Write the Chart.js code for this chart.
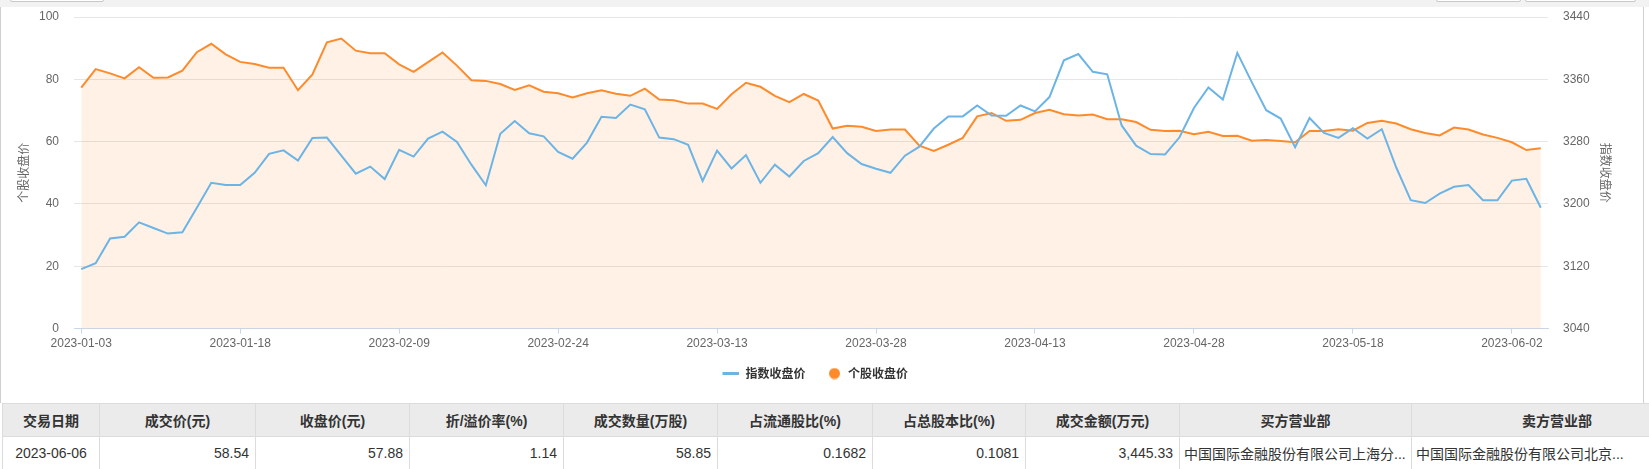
<!DOCTYPE html>
<html>
<head>
<meta charset="utf-8">
<script src="https://cdn.jsdelivr.net/npm/chart.js@4.4.0/dist/chart.umd.min.js"></script>
<style>
body { margin: 0; width: 1649px; height: 469px; overflow: hidden; background: #fff; position: relative;
  font-family: Arial, "Liberation Sans", "Noto Sans CJK SC", sans-serif; }
#topbar { position: absolute; left: 0; top: 0; width: 1649px; height: 7px; background: #f2f2f2; }
.btn { position: absolute; top: -6px; height: 6px; border: 1px solid #c8c8c8; background: #fff; border-radius: 2px; }
#panel { position: absolute; left: 0; top: 7px; width: 1644px; height: 396px; border-left: 1px solid #d0d0d0; border-right: 1px solid #d0d0d0; box-sizing: border-box; }
#wrap { position: absolute; left: 0; top: 0; width: 1649px; height: 400px; }
table { position: absolute; left: 2px; top: 403px; border-collapse: collapse; table-layout: fixed; width: 1700px; font-size: 14px; color: #333; }
th, td { border: 1px solid #dcdcdc; height: 32px; padding: 0 6px; white-space: nowrap; overflow: hidden; }
th { background: #ebebeb; font-weight: bold; text-align: center; }
td { text-align: right; }
td.c { text-align: center; }
td.l { text-align: left; padding-left: 4px; }
</style>
</head>
<body>
<div id="topbar"></div>
<div class="btn" style="left:10px;width:92px"></div>
<div class="btn" style="left:1436px;width:83px"></div>
<div class="btn" style="left:1525px;width:109px"></div>
<div id="panel"></div>
<div id="wrap"><canvas id="myChart"></canvas></div>
<table>
  <colgroup>
    <col style="width:97px"><col style="width:156px"><col style="width:154px"><col style="width:154px"><col style="width:154px">
    <col style="width:155px"><col style="width:153px"><col style="width:154px"><col style="width:232px"><col style="width:291px">
  </colgroup>
  <tr><th>交易日期</th><th>成交价(元)</th><th>收盘价(元)</th><th>折/溢价率(%)</th><th>成交数量(万股)</th><th>占流通股比(%)</th><th>占总股本比(%)</th><th>成交金额(万元)</th><th>买方营业部</th><th>卖方营业部</th></tr>
  <tr><td class="c">2023-06-06</td><td>58.54</td><td>57.88</td><td>1.14</td><td>58.85</td><td>0.1682</td><td>0.1081</td><td>3,445.33</td><td class="l">中国国际金融股份有限公司上海分...</td><td class="l">中国国际金融股份有限公司北京...</td></tr>
</table>
<script>
// trading days shown on the x axis
const dates = [
  '2023-01-03','2023-01-04','2023-01-05','2023-01-06','2023-01-09','2023-01-10','2023-01-11','2023-01-12','2023-01-13','2023-01-16',
  '2023-01-17','2023-01-18','2023-01-19','2023-01-20','2023-01-30','2023-01-31','2023-02-01','2023-02-02','2023-02-03','2023-02-06',
  '2023-02-07','2023-02-08','2023-02-09','2023-02-10','2023-02-13','2023-02-14','2023-02-15','2023-02-16','2023-02-17','2023-02-20',
  '2023-02-21','2023-02-22','2023-02-23','2023-02-24','2023-02-27','2023-02-28','2023-03-01','2023-03-02','2023-03-03','2023-03-06',
  '2023-03-07','2023-03-08','2023-03-09','2023-03-10','2023-03-13','2023-03-14','2023-03-15','2023-03-16','2023-03-17','2023-03-20',
  '2023-03-21','2023-03-22','2023-03-23','2023-03-24','2023-03-27','2023-03-28','2023-03-29','2023-03-30','2023-03-31','2023-04-03',
  '2023-04-04','2023-04-06','2023-04-07','2023-04-10','2023-04-11','2023-04-12','2023-04-13','2023-04-14','2023-04-17','2023-04-18',
  '2023-04-19','2023-04-20','2023-04-21','2023-04-24','2023-04-25','2023-04-26','2023-04-27','2023-04-28','2023-05-04','2023-05-05',
  '2023-05-08','2023-05-09','2023-05-10','2023-05-11','2023-05-12','2023-05-15','2023-05-16','2023-05-17','2023-05-18','2023-05-19',
  '2023-05-22','2023-05-23','2023-05-24','2023-05-25','2023-05-26','2023-05-29','2023-05-30','2023-05-31','2023-06-01','2023-06-02',
  '2023-06-05','2023-06-06'
]

// 指数收盘价 (right axis)
const indexClose = [
  3116.4, 3124.0, 3155.6, 3158.0, 3176.4, 3169.2, 3162.0, 3163.6, 3195.2, 3227.2,
  3224.4, 3224.4, 3240.0, 3264.4, 3268.8, 3255.6, 3284.8, 3285.2, 3262.0, 3238.8,
  3248.0, 3232.0, 3269.6, 3260.8, 3284.0, 3292.8, 3279.6, 3250.4, 3224.0, 3290.0,
  3306.4, 3290.8, 3286.8, 3266.8, 3258.0, 3278.8, 3312.0, 3310.4, 3327.6, 3321.6,
  3285.2, 3283.2, 3276.0, 3229.6, 3268.4, 3245.6, 3262.8, 3227.2, 3250.4, 3235.2,
  3255.2, 3265.2, 3286.0, 3265.2, 3251.2, 3245.2, 3240.0, 3262.0, 3273.6, 3296.8,
  3312.4, 3312.4, 3326.4, 3313.6, 3313.2, 3326.4, 3318.8, 3337.2, 3384.4, 3392.4,
  3369.6, 3366.4, 3300.8, 3274.8, 3264.0, 3263.6, 3285.6, 3323.2, 3349.6, 3334.0,
  3394.0, 3356.4, 3320.4, 3309.6, 3272.8, 3310.4, 3291.2, 3284.8, 3297.2, 3284.0,
  3296.0, 3246.8, 3204.8, 3201.2, 3213.2, 3222.0, 3224.4, 3204.8, 3204.8, 3230.0,
  3232.4, 3195.2
]

// 个股收盘价 (left axis)
const stockClose = [
  77.3, 83.3, 81.9, 80.3, 83.9, 80.5, 80.6, 82.8, 88.7, 91.4,
  88.0, 85.6, 84.9, 83.7, 83.7, 76.5, 81.6, 91.9, 93.1, 89.2,
  88.4, 88.4, 84.8, 82.4, 85.5, 88.6, 84.4, 79.7, 79.5, 78.5,
  76.6, 78.1, 76.0, 75.5, 74.2, 75.5, 76.5, 75.4, 74.7, 77.0,
  73.5, 73.3, 72.2, 72.2, 70.5, 75.2, 78.9, 77.6, 74.7, 72.7,
  75.3, 73.2, 64.2, 65.1, 64.8, 63.4, 63.9, 63.9, 58.7, 57.0,
  59.0, 61.2, 68.1, 69.2, 66.7, 67.0, 69.2, 70.2, 68.8, 68.4,
  68.7, 67.2, 67.2, 66.3, 63.8, 63.4, 63.5, 62.4, 63.2, 61.8,
  61.9, 60.3, 60.5, 60.2, 59.8, 63.4, 63.4, 64.0, 63.5, 66.0,
  66.7, 65.8, 64.0, 62.8, 62.0, 64.5, 63.9, 62.3, 61.2, 59.8,
  57.3, 57.88
]

const leftTicks = [0, 20, 40, 60, 80, 100]
const rightTicks = [3040, 3120, 3200, 3280, 3360, 3440]

const blue = '#6cb4e6'
const orange = '#fd8b2c'

// legend markers on a 23px wide box: a short line and a dot, both at the right end
function makeMarker(kind, color) {
  const c = document.createElement('canvas')
  c.width = 23
  if (kind === 'line') {
    c.height = 3
    const g = c.getContext('2d')
    g.fillStyle = color
    g.fillRect(6, 0, 17, 3)
  } else {
    c.height = 12
    const g = c.getContext('2d')
    g.fillStyle = color
    g.beginPath()
    g.arc(15.5, 6, 5.5, 0, Math.PI * 2)
    g.fill()
  }
  return c
}

document.addEventListener("DOMContentLoaded", () => {
  displayChart()
})

function displayChart() {
  const tickFont = { size: 12, family: 'Arial, "Liberation Sans", "Noto Sans CJK SC", sans-serif' }
  const cjkFont = { size: 12, family: '"Noto Sans CJK SC", sans-serif' }
  const ctx = document.getElementById('myChart')
  new Chart(ctx, {
    type: 'line',
    data: {
      labels: dates,
      datasets: [{
        label: '指数收盘价',
        data: indexClose,
        yAxisID: 'y1',
        borderColor: blue,
        borderWidth: 2,
        pointRadius: 0,
        pointStyle: makeMarker('line', blue),
        tension: 0,
        fill: false
      }, {
        label: '个股收盘价',
        data: stockClose,
        yAxisID: 'y',
        borderColor: orange,
        backgroundColor: 'rgba(253,139,44,0.12)',
        borderWidth: 2,
        pointRadius: 0,
        pointStyle: makeMarker('dot', orange),
        tension: 0,
        fill: 'origin'
      }]
    },
    options: {
      responsive: true,
      maintainAspectRatio: false,
      animation: false,
      layout: { padding: { top: 17, left: 0, right: 24.5, bottom: 10.5 } },
      plugins: {
        tooltip: { enabled: false },
        legend: {
          position: 'bottom',
          labels: {
            usePointStyle: true,
            pointStyleWidth: 23,
            color: '#333',
            padding: 13.5,
            font: { size: 12, weight: 'bold', family: '"Noto Sans CJK SC", sans-serif' }
          }
        }
      },
      scales: {
        x: {
          offset: true,
          grid: { display: true, offset: false, drawOnChartArea: false, tickLength: 5, color: '#ccd6eb' },
          border: { color: '#ccd6eb' },
          ticks: {
            autoSkip: false,
            maxRotation: 0,
            padding: 3,
            color: '#666',
            font: tickFont,
            callback: (v, i) => i % 11 === 0 ? dates[i] : null
          }
        },
        y: {
          position: 'left',
          min: 0, max: 100,
          afterBuildTicks: s => { s.ticks = leftTicks.map(v => ({ value: v })) },
          afterFit: s => { s.width = 74 },
          grid: { color: '#e6e6e6', drawTicks: true, tickLength: 12, tickColor: 'rgba(0,0,0,0)' },
          border: { display: false },
          ticks: { padding: 3, color: '#666', font: tickFont },
          title: { display: true, text: '个股收盘价', color: '#666', font: cjkFont, padding: { top: 16, bottom: 0 } }
        },
        y1: {
          position: 'right',
          min: 3040, max: 3440,
          afterBuildTicks: s => { s.ticks = rightTicks.map(v => ({ value: v })) },
          afterFit: s => { s.width = 76.5 },
          grid: { drawOnChartArea: false, drawTicks: true, tickLength: 12, tickColor: 'rgba(0,0,0,0)' },
          border: { display: false },
          ticks: { padding: 3, color: '#666', font: tickFont, callback: v => String(v) },
          title: { display: true, text: '指数收盘价', color: '#666', font: cjkFont, padding: { top: 11.5, bottom: 0 } }
        }
      }
    }
  })
}
</script>
</body>
</html>
